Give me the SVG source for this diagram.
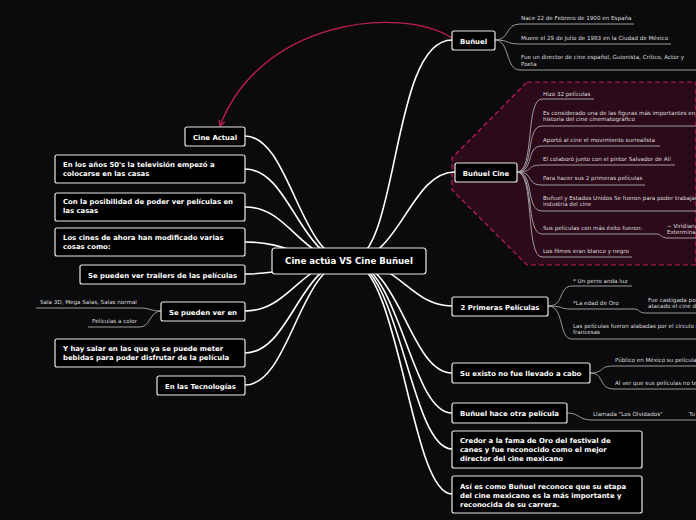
<svg xmlns="http://www.w3.org/2000/svg" width="696" height="520" viewBox="0 0 696 520">
<defs>
<style>
.n rect{fill:#000;stroke:#e8e8e8;stroke-width:1.2}
.n text{fill:#fff;font-family:"DejaVu Sans",sans-serif;font-weight:bold;font-size:6.9px}
.s{fill:#ddd;font-family:"DejaVu Sans",sans-serif;font-size:5.6px}
.c path{fill:none;stroke:#fff;stroke-width:1.6}
.l path{fill:none;stroke:#aaa;stroke-width:0.9}
</style>
<marker id="ar" viewBox="0 0 10 10" refX="8" refY="5" markerWidth="6" markerHeight="6" orient="auto"><path d="M1,1 L8,5 L1,9" fill="none" stroke="#c01d55" stroke-width="1.6"/></marker>
</defs>
<rect width="696" height="520" fill="#0b0b0e"/>
<path d="M527,82 L696,82 L696,265 L527,265 L452,190 L452,158 Z" fill="#2d0a1a" stroke="#c01d55" stroke-width="1.2" stroke-dasharray="5,3"/>
<g class="c">
<path d="M349,261 C400,261 390,40 452,40"/>
<path d="M349,261 C400,261 410,172 455,172"/>
<path d="M349,261 C400,261 410,306 452,306"/>
<path d="M349,261 C400,261 410,373 452,373"/>
<path d="M349,261 C400,261 410,413 452,413"/>
<path d="M349,261 C400,261 410,449 452,449"/>
<path d="M349,261 C400,261 410,494 452,494"/>
<path d="M349,261 C300,261 290,136 245,136"/>
<path d="M349,261 C300,261 290,169 245,169"/>
<path d="M349,261 C300,261 290,207 245,207"/>
<path d="M349,261 C300,261 290,242 245,242"/>
<path d="M349,261 C300,261 290,274 245,274"/>
<path d="M349,261 C300,261 290,311 245,311"/>
<path d="M349,261 C300,261 290,353 245,353"/>
<path d="M349,261 C300,261 290,385 245,385"/>
</g>
<g class="l">
<path d="M495,40 C510,40 505,24 520,24 L634,24"/>
<path d="M495,40 C510,40 505,44 520,44 L671,44"/>
<path d="M495,40 C510,40 505,70 520,70 L696,70"/>
<path d="M517,172 C535,172 525,99 542,99 L594,99"/>
<path d="M517,172 C535,172 525,126 542,126 L696,126"/>
<path d="M517,172 C535,172 525,146 542,146 L660,146"/>
<path d="M517,172 C535,172 525,165 542,165 L675,165"/>
<path d="M517,172 C535,172 525,185 542,185 L645,185"/>
<path d="M517,172 C535,172 525,211 542,211 L696,211"/>
<path d="M517,172 C535,172 525,234 542,234 L657,234 C662,234 660,238 668,238 L696,238"/>
<path d="M517,172 C535,172 525,257 542,257 L632,257"/>
<path d="M548,306 C565,306 558,286 572,286 L632,286"/>
<path d="M548,306 C565,306 558,309 572,309 L634,309 C640,309 638,313 646,313 L696,313"/>
<path d="M548,306 C565,306 558,339 572,339 L696,339"/>
<path d="M590,373 C605,373 598,366 614,366 L696,366"/>
<path d="M590,373 C605,373 598,389 614,389 L696,389"/>
<path d="M567,413 C580,413 578,420 592,420 L696,420"/>
<path d="M161,311 C150,311 150,308 140,308 L36,308"/>
<path d="M161,311 C150,311 150,327 140,327 L88,327"/>
</g>
<path d="M452,38 C400,5 260,20 220,126" fill="none" stroke="#c01d55" stroke-width="1.3" marker-end="url(#ar)"/>
<g id="center" class="n"><rect x="272" y="248" width="154" height="26" rx="3"/><text x="349" y="264" text-anchor="middle" style="font-size:8.6px">Cine actúa VS Cine Buñuel</text></g>
<g id="bunuel" class="n"><rect x="452" y="31" width="43" height="19" rx="2"/><text x="473.5" y="43.5" text-anchor="middle">Buñuel</text></g>
<g id="bunuelcine" class="n"><rect x="455" y="163" width="62" height="19" rx="2"/><text x="486" y="175.5" text-anchor="middle">Buñuel Cine</text></g>
<g id="primeras" class="n"><rect x="452" y="297" width="96" height="19" rx="2"/><text x="500" y="309.5" text-anchor="middle">2 Primeras Películas</text></g>
<g id="existo" class="n"><rect x="452" y="363" width="138" height="20" rx="2"/><text x="460" y="376">Su existo no fue llevado a cabo</text></g>
<g id="otra" class="n"><rect x="452" y="403" width="115" height="20" rx="2"/><text x="460" y="416">Buñuel hace otra película</text></g>
<g id="fama" class="n"><rect x="452" y="431" width="190" height="37" rx="2"/><text x="460" y="443">Credor a la fama de Oro del festival de</text><text x="460" y="452">canes y fue reconocido como el mejor</text><text x="460" y="461">director del cine mexicano</text></g>
<g id="asi" class="n"><rect x="452" y="476" width="190" height="37" rx="2"/><text x="460" y="489">Así es como Buñuel reconoce que su etapa</text><text x="460" y="498">del cine mexicano es la más importante y</text><text x="460" y="507">reconocida de su carrera.</text></g>
<g id="actual" class="n"><rect x="185" y="127" width="60" height="19" rx="2"/><text x="215" y="139.5" text-anchor="middle">Cine Actual</text></g>
<g id="anos50" class="n"><rect x="55" y="155" width="190" height="28" rx="2"/><text x="63" y="167">En los años 50's la televisión empezó a</text><text x="63" y="176">colocarse en las casas</text></g>
<g id="posibilidad" class="n"><rect x="55" y="193" width="190" height="28" rx="2"/><text x="63" y="204">Con la posibilidad de poder ver películas en</text><text x="63" y="213">las casas</text></g>
<g id="cines" class="n"><rect x="55" y="228" width="190" height="28" rx="2"/><text x="63" y="240">Los cines de ahora han modificado varias</text><text x="63" y="249">cosas como:</text></g>
<g id="trailers" class="n"><rect x="80" y="265" width="165" height="19" rx="2"/><text x="88" y="277.5">Se pueden ver trailers de las películas</text></g>
<g id="verEn" class="n"><rect x="161" y="302" width="84" height="19" rx="2"/><text x="169" y="314.5">Se pueden ver en</text></g>
<g id="salar" class="n"><rect x="55" y="339" width="190" height="28" rx="2"/><text x="63" y="351">Y hay salar en las que ya se puede meter</text><text x="63" y="360">bebidas para poder disfrutar de la película</text></g>
<g id="tecno" class="n"><rect x="157" y="376" width="88" height="19" rx="2"/><text x="165" y="388.5">En las Tecnologías</text></g>
<g id="subs">
<text class="s" x="521" y="20">Nace 22 de Febrero de 1900 en España</text>
<text class="s" x="521" y="40">Muere el 29 de Julio de 1983 en la Ciudad de México</text>
<text class="s" x="521" y="59">Fue un director de cine español, Guionista, Crítico, Actor y</text>
<text class="s" x="521" y="66">Poeta</text>
<text class="s" x="543" y="96">Hizo 32 películas</text>
<text class="s" x="543" y="115">Es considerado una de las figuras más importantes en la</text>
<text class="s" x="543" y="121">historia del cine cinematográfico</text>
<text class="s" x="543" y="142">Aportó al cine el  movimiento surrealista</text>
<text class="s" x="543" y="161">El colaboró junto con el pintor Salvador de Alí</text>
<text class="s" x="543" y="180">Para hacer sus 2 primeras películas</text>
<text class="s" x="543" y="200">Buñuel y Estados Unidos Se fueron para poder trabajar en la</text>
<text class="s" x="543" y="206">industria del cine</text>
<text class="s" x="543" y="230">Sus películas con más éxito fueron:</text>
<text class="s" x="667" y="228">~ Viridiana</text>
<text class="s" x="667" y="234">Exterminador</text>
<text class="s" x="543" y="253">Los filmes eran blanco y negro</text>
<text class="s" x="573" y="283">*  Un perro anda luz</text>
<text class="s" x="573" y="305">*La edad de Oro</text>
<text class="s" x="648" y="302">Fue castigada por</text>
<text class="s" x="648" y="308">atacado el cine do</text>
<text class="s" x="573" y="328">Las películas fueron alabadas por el circulo intelectual</text>
<text class="s" x="573" y="334">francesas</text>
<text class="s" x="615" y="362">Público  en  México  su películas</text>
<text class="s" x="615" y="385">Al ver que sus películas no tenían</text>
<text class="s" x="593" y="416">Llamada "Los Olvidados"</text>
<text class="s" x="689" y="416">Tu</text>
<text class="s" x="40" y="304">Sala 3D, Mega Salas, Salas normal</text>
<text class="s" x="92" y="323">Películas a color</text>
</g>
</svg>
